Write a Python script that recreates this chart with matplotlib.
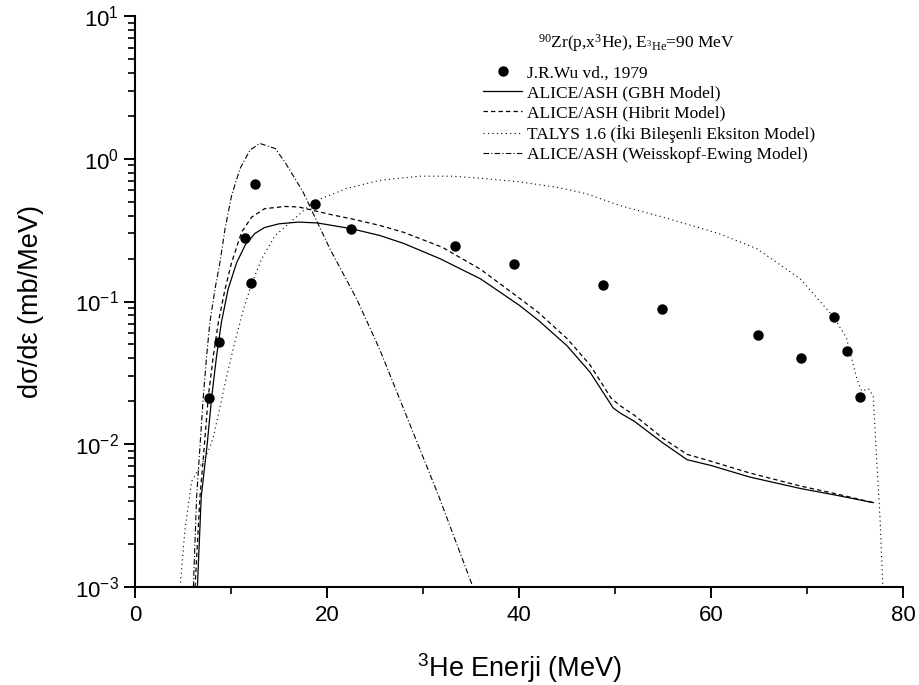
import numpy as np
import matplotlib
matplotlib.use("Agg")
from matplotlib import pyplot as plt
from matplotlib.ticker import MultipleLocator, LogLocator

plt.rcParams['font.family'] = ['Liberation Sans', 'DejaVu Sans']

#------------------- data -------------------
E_exp = [7.7, 8.7, 11.5, 12.1, 12.5, 18.7, 22.5, 33.3, 39.5, 48.8, 54.9, 64.9, 69.4, 72.8, 74.2, 75.5]
y_exp = [0.021, 0.052, 0.28, 0.135, 0.67, 0.48, 0.32, 0.245, 0.183, 0.131, 0.088, 0.058, 0.040, 0.078, 0.045, 0.0215]

E_gbh = [6.5, 6.9, 7.5, 8.0, 8.5, 9.0, 9.7, 10.6, 11.5, 12.5, 13.5, 15.0, 17.0, 19.0, 22.5, 25.5,
         28.0, 31.8, 36.0, 40.0, 42.0, 45.0, 47.4, 49.8, 50.5, 52.0, 55.0, 57.5, 60.0, 64.0, 69.3, 73.0, 76.9]
y_gbh = [0.001, 0.0043, 0.0097, 0.0218, 0.0416, 0.0714, 0.122, 0.188, 0.25, 0.30, 0.33, 0.35, 0.36, 0.355, 0.324, 0.29,
         0.255, 0.199, 0.144, 0.0944, 0.074, 0.049, 0.032, 0.018, 0.0166, 0.0145, 0.0102, 0.0078, 0.0071, 0.0059, 0.0049, 0.0044, 0.0039]

E_hyb = [6.25, 6.77, 7.22, 7.64, 8.16, 8.68, 9.38, 10.07, 11.1, 12.15, 13.5, 15.6, 17.0, 18.6, 20.5, 22.5, 25.5,
         28.0, 32.0, 36.0, 40.0, 42.0, 45.0, 47.4, 49.6, 50.6, 52.0, 55.0, 57.5, 60.0, 64.0, 69.3, 73.0, 76.9]
y_hyb = [0.001, 0.0043, 0.0097, 0.0218, 0.0416, 0.0714, 0.122, 0.188, 0.306, 0.39, 0.447, 0.463, 0.46, 0.434, 0.405, 0.38, 0.341,
         0.305, 0.24, 0.168, 0.106, 0.084, 0.055, 0.036, 0.021, 0.0185, 0.016, 0.011, 0.0085, 0.0076, 0.0063, 0.0051, 0.0045, 0.0039]

E_talys = [4.7, 5.2, 5.9, 6.5, 7.2, 7.8, 8.2, 9.4, 10.4, 11.3, 12.15, 13.2, 14.6, 15.8, 18.6, 22.0, 25.5, 29.7,
           33.0, 36.0, 40.0, 44.0, 47.0, 50.5, 55.0, 60.9, 64.8, 69.3, 72.7, 74.1, 75.2, 75.7, 76.4, 76.9, 77.2, 77.6, 77.9]
y_talys = [0.001, 0.0025, 0.0055, 0.0065, 0.0078, 0.0095, 0.0115, 0.027, 0.052, 0.088, 0.133, 0.199, 0.29, 0.341, 0.50, 0.618, 0.706, 0.755,
           0.755, 0.73, 0.69, 0.63, 0.57, 0.47, 0.39, 0.298, 0.234, 0.144, 0.079, 0.056, 0.0285, 0.0236, 0.0245, 0.0217, 0.0092, 0.0031, 0.001]

E_we = [6.08, 6.42, 6.77, 7.12, 7.46, 7.8, 8.33, 8.85, 9.38, 10.07, 10.94, 11.98, 13.0, 14.6, 15.6, 17.5, 20.3, 23.1, 25.5, 31.6, 35.2]
y_we = [0.001, 0.0043, 0.0097, 0.0218, 0.0416, 0.0714, 0.122, 0.188, 0.324, 0.555, 0.853, 1.15, 1.28, 1.18, 0.952, 0.586, 0.234, 0.104, 0.046, 0.0044, 0.001]

labels = ['J.R.Wu vd., 1979',
          'ALICE/ASH (GBH Model)',
          'ALICE/ASH (Hibrit Model)',
          'TALYS 1.6 (İki Bileşenli Eksiton Model)',
          'ALICE/ASH (Weisskopf-Ewing Model)']

#-----------------------------------------------------------------

fig = plt.figure(figsize=(9.2, 6.85), dpi=100)
ax = fig.add_axes([135 / 920, 1 - 587 / 685, (903 - 135) / 920, (587 - 16) / 685])

h0, = ax.plot(E_exp, y_exp, 'o', color='k', markersize=6.5, linestyle='none')
h1, = ax.plot(E_gbh, y_gbh, '-', color='k', lw=0.9)
h2, = ax.plot(E_hyb, y_hyb, color='k', lw=0.9, linestyle=(0, (3.5, 2.5)))
h3, = ax.plot(E_talys, y_talys, color='k', lw=0.8, linestyle=(0, (1, 3)))
h4, = ax.plot(E_we, y_we, color='k', lw=0.8, linestyle=(0, (5, 2, 1, 2)))

ax.set_yscale('log')
ax.set_xlim(0, 80)
ax.set_ylim(1e-3, 10)
ax.xaxis.set_major_locator(MultipleLocator(20))
ax.xaxis.set_minor_locator(MultipleLocator(10))
ax.yaxis.set_major_locator(LogLocator(base=10, numticks=10))
ax.yaxis.set_minor_locator(LogLocator(base=10, subs=np.arange(2, 10), numticks=20))

for s in ['top', 'right']:
    ax.spines[s].set_visible(False)
for s in ['left', 'bottom']:
    ax.spines[s].set_linewidth(1.5)
ax.tick_params(which='major', direction='out', length=8, width=1.4, labelsize=16)
ax.tick_params(which='minor', direction='out', length=5, width=1.2)
ax.tick_params(axis='x', pad=5)

ax.set_xlabel(r'$\mathdefault{{}^{3}}$He Enerji (MeV)', fontsize=19.5, labelpad=18)
ax.set_ylabel('dσ/dε (mb/MeV)', fontsize=19.5, labelpad=22)

serif = {'family': ['Liberation Serif', 'DejaVu Serif'], 'size': 12.5}
fig.text(538 / 920, 1 - 48 / 685,
         r'$\mathdefault{{}^{90}}$Zr(p,x$\mathdefault{{}^{3}}$He), E$\mathdefault{_{{}^{3}He}}$=90 MeV',
         fontdict=serif, ha='left', va='baseline')

leg = ax.legend([h0, h1, h2, h3, h4], labels, loc='upper left',
                bbox_to_anchor=(483 / 920, 1 - 65 / 685), bbox_transform=fig.transFigure,
                frameon=False, prop=serif, handlelength=2.25, handletextpad=0.3,
                labelspacing=0.22, borderpad=0, borderaxespad=0, numpoints=1)

plt.savefig('out.png', dpi=100)
